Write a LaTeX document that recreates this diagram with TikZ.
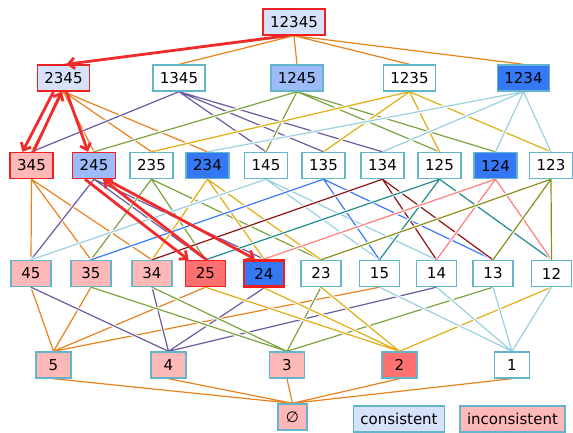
\documentclass[tikz,border=0pt]{standalone}
\usepackage{fontspec}
\setmainfont{DejaVu Sans}
\usepackage{tikz}
\usetikzlibrary{arrows.meta, backgrounds}
\definecolor{cOrange}{HTML}{E8821E}
\definecolor{cPurple}{HTML}{6B5B9E}
\definecolor{cGreen}{HTML}{7DA33F}
\definecolor{cGold}{HTML}{E0AE12}
\definecolor{cSky}{HTML}{9BD0E0}
\definecolor{cBlue}{HTML}{3A7BF5}
\definecolor{cMaroon}{HTML}{8B1515}
\definecolor{cTeal}{HTML}{218C8C}
\definecolor{cSalmon}{HTML}{FF7F7F}
\definecolor{cOlive}{HTML}{8E8E1E}
\definecolor{fConsist}{HTML}{D6E2FA}
\definecolor{fIncons}{HTML}{FFB8B8}
\definecolor{fBad}{HTML}{FF7070}
\definecolor{fMid}{HTML}{9CBBF8}
\definecolor{fDark}{HTML}{3478F6}
\definecolor{bCyan}{HTML}{63B5CC}
\definecolor{bRed}{HTML}{F02020}

\begin{document}
\begin{tikzpicture}[
  x=1pt, y=-1pt,
  set/.style   = {draw=bCyan, line width=1.4pt, fill=white, minimum height=26pt, inner xsep=7pt, inner ysep=2pt, font=\fontsize{15}{18}\selectfont},
  hit/.style   = {draw=bRed},
  pair/.style  = {set, minimum width=40pt},
  single/.style= {set, minimum width=35pt},
  e/.style     = {line width=1.2pt, preaction={draw=white, line width=3.2pt}},
  trail/.style = {-{Straight Barb[length=6pt,width=11pt]}, line width=2.8pt, color=bRed!95!white},
]
\useasboundingbox (0,0) rectangle (573,432);
% whole set
\node[set, hit, fill=fConsist] (s12345) at (294,22) {12345};
% four elements
\node[set, hit, fill=fConsist] (s2345) at (63.5,78) {2345};
\node[set] (s1345) at (179,78) {1345};
\node[set, fill=fMid] (s1245) at (297,78) {1245};
\node[set] (s1235) at (409.5,78) {1235};
\node[set, fill=fDark] (s1234) at (523.5,78) {1234};
% three elements
\node[set, hit, fill=fIncons] (s345) at (31.5,165.5) {345};
\node[set, hit, fill=fMid] (s245) at (94,165.5) {245};
\node[set] (s235) at (151.5,165.5) {235};
\node[set, fill=fDark] (s234) at (207.5,165.5) {234};
\node[set] (s145) at (266,165.5) {145};
\node[set] (s135) at (323.5,165.5) {135};
\node[set] (s134) at (382.5,165.5) {134};
\node[set] (s125) at (439.5,165.5) {125};
\node[set, fill=fDark] (s124) at (495.5,165.5) {124};
\node[set] (s123) at (551,165.5) {123};
% two elements
\node[pair, fill=fIncons] (s45) at (31,273.5) {45};
\node[pair, fill=fIncons] (s35) at (91,273.5) {35};
\node[pair, fill=fIncons] (s34) at (152,273.5) {34};
\node[pair, hit, fill=fBad] (s25) at (205.5,273.5) {25};
\node[pair, hit, fill=fDark, line width=2.8pt] (s24) at (264,273.5) {24};
\node[pair] (s23) at (321,273.5) {23};
\node[pair] (s15) at (379.5,273.5) {15};
\node[pair] (s14) at (436.5,273.5) {14};
\node[pair] (s13) at (493,273.5) {13};
\node[pair] (s12) at (551.5,273.5) {12};
% one element
\node[single, fill=fIncons] (s5) at (53.5,365) {5};
\node[single, fill=fIncons] (s4) at (168.5,365) {4};
\node[single, fill=fIncons] (s3) at (287,365) {3};
\node[single, fill=fBad] (s2) at (399.5,365) {2};
\node[single] (s1) at (512,365) {1};
\node[set, minimum width=29pt, inner xsep=4pt, fill=fIncons] (empty) at (292.5,417) {∅};
% legend
\node[set, fill=fConsist] (consist) at (399,419) {consistent};
\node[set, fill=fIncons] (incons) at (512.5,419) {inconsistent};

\begin{scope}[on background layer]
\draw[e, cOrange] (s12345.south) -- (s2345.north) (s12345.south) -- (s1345.north) (s12345.south) -- (s1245.north) (s12345.south) -- (s1235.north) (s12345.south) -- (s1234.north);
% four -> three
\draw[e, cOrange] (s2345.south) -- (s345.north) (s2345.south) -- (s245.north) (s2345.south) -- (s235.north) (s2345.south) -- (s234.north);
\draw[e, cPurple] (s1345.south) -- (s345.north) (s1345.south) -- (s145.north) (s1345.south) -- (s135.north) (s1345.south) -- (s134.north);
\draw[e, cGreen] (s1245.south) -- (s245.north) (s1245.south) -- (s145.north) (s1245.south) -- (s125.north) (s1245.south) -- (s124.north);
\draw[e, cGold] (s1235.south) -- (s235.north) (s1235.south) -- (s135.north) (s1235.south) -- (s125.north) (s1235.south) -- (s123.north);
\draw[e, cSky] (s1234.south) -- (s234.north) (s1234.south) -- (s134.north) (s1234.south) -- (s124.north) (s1234.south) -- (s123.north);
% three -> two
\draw[e, cOrange] (s345.south) -- (s45.north) (s345.south) -- (s35.north) (s345.south) -- (s34.north);
\draw[e, cPurple] (s245.south) -- (s45.north) (s245.south) -- (s25.north) (s245.south) -- (s24.north);
\draw[e, cGreen] (s235.south) -- (s35.north) (s235.south) -- (s25.north) (s235.south) -- (s23.north);
\draw[e, cGold] (s234.south) -- (s34.north) (s234.south) -- (s24.north) (s234.south) -- (s23.north);
\draw[e, cSky] (s145.south) -- (s45.north) (s145.south) -- (s15.north) (s145.south) -- (s14.north);
\draw[e, cBlue] (s135.south) -- (s35.north) (s135.south) -- (s15.north) (s135.south) -- (s13.north);
\draw[e, cMaroon] (s134.south) -- (s34.north) (s134.south) -- (s14.north) (s134.south) -- (s13.north);
\draw[e, cTeal] (s125.south) -- (s25.north) (s125.south) -- (s15.north) (s125.south) -- (s12.north);
\draw[e, cSalmon] (s124.south) -- (s24.north) (s124.south) -- (s14.north) (s124.south) -- (s12.north);
\draw[e, cOlive] (s123.south) -- (s23.north) (s123.south) -- (s13.north) (s123.south) -- (s12.north);
% two -> one
\draw[e, cOrange] (s45.south) -- (s5.north) (s35.south) -- (s5.north) (s25.south) -- (s5.north) (s15.south) -- (s5.north);
\draw[e, cPurple] (s45.south) -- (s4.north) (s34.south) -- (s4.north) (s24.south) -- (s4.north) (s14.south) -- (s4.north);
\draw[e, cGreen] (s35.south) -- (s3.north) (s34.south) -- (s3.north) (s23.south) -- (s3.north) (s13.south) -- (s3.north);
\draw[e, cGold] (s25.south) -- (s2.north) (s24.south) -- (s2.north) (s23.south) -- (s2.north) (s12.south) -- (s2.north);
\draw[e, cSky] (s15.south) -- (s1.north) (s14.south) -- (s1.north) (s13.south) -- (s1.north) (s12.south) -- (s1.north);
% one -> empty
\draw[e, cOrange] (s5.south) -- (empty.north) (s4.south) -- (empty.north) (s3.south) -- (empty.north) (s2.south) -- (empty.north) (s1.south) -- (empty.north);
\end{scope}

% search trail
\draw[trail] ([xshift=-7pt]s12345.south) -- ([xshift=3pt]s2345.north);
\draw[trail] ([xshift=-10pt]s2345.south) -- ([xshift=-9pt]s345.north);
\draw[trail] ([xshift=2pt]s345.north) -- ([xshift=-2pt]s2345.south);
\draw[trail] ([xshift=3pt]s2345.south) -- ([xshift=-6pt]s245.north);
\draw[trail] ([xshift=-9pt]s245.south) -- ([xshift=-17pt]s25.north);
\draw[trail] ([xshift=1pt]s25.north) -- ([xshift=9pt]s245.south);
\draw[trail] ([xshift=12pt]s245.south) -- ([xshift=-9pt]s24.north);
\end{tikzpicture}
\end{document}
